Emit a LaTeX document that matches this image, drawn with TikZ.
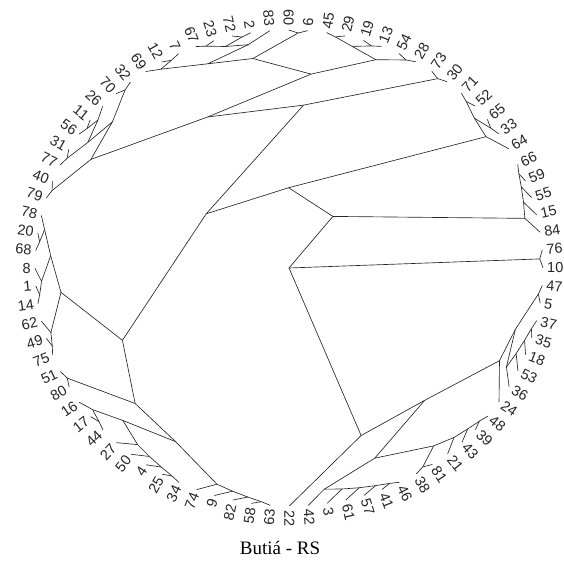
\documentclass[tikz,border=0pt]{standalone}
\usepackage{fontspec}
\setmainfont{Liberation Serif}
\setsansfont{Liberation Sans}
\usepackage{etoolbox}
\usetikzlibrary{calc}

\newcommand\cxx{289}
\newcommand\cyy{297}
\newcommand\Rxx{254}
\newcommand\Ryy{238}
\newcommand\loff{4}

\def\allnodes{}
\def\alledges{}

\newcommand\Lf[2]{%
  \pgfmathsetmacro\tmpa{81.5-(#2-1)*4.2857143+(#2>41)*360}%
  \expandafter\xdef\csname angt#1\endcsname{\tmpa}%
  \expandafter\xdef\csname cntt#1\endcsname{1}%
  \gappto\allnodes{\PlLeaf{#1}}%
}
\newcommand\In[3]{%
  \edef\tmpca{\csname ang#2\endcsname}\edef\tmpcb{\csname ang#3\endcsname}%
  \edef\tmpna{\csname cnt#2\endcsname}\edef\tmpnb{\csname cnt#3\endcsname}%
  \pgfmathsetmacro\tmpa{(\tmpca+\tmpcb)/2}%
  \pgfmathtruncatemacro\tmpn{\tmpna+\tmpnb}%
  \expandafter\xdef\csname ang#1\endcsname{\tmpa}%
  \expandafter\xdef\csname cnt#1\endcsname{\tmpn}%
  \gappto\allnodes{\PlNode{#1}}%
  \gappto\alledges{\draw[edge] (#1) -- (#2); \draw[edge] (#1) -- (#3);}%
}
\newcommand\InR[4]{%
  \expandafter\xdef\csname ang#1\endcsname{0}%
  \expandafter\xdef\csname cnt#1\endcsname{84}%
  \gappto\allnodes{\PlNode{#1}}%
  \gappto\alledges{\draw[edge] (#1) -- (#2); \draw[edge] (#1) -- (#3); \draw[edge] (#1) -- (#4);}%
}
\newcommand\PlNode[1]{%
  \pgfmathsetmacro\tmprr{(84-\csname cnt#1\endcsname)/83}%
  \pgfmathsetmacro\tmpang{\csname ang#1\endcsname}%
  \coordinate (#1) at ({\cxx+\Rxx*\tmprr*cos(\tmpang)},{\cyy+\Ryy*\tmprr*sin(\tmpang)});%
}
\newcommand\PlLeaf[1]{%
  \pgfmathsetmacro\tmpang{\csname angt#1\endcsname}%
  \coordinate (t#1) at ({\cxx+\Rxx*cos(\tmpang)},{\cyy+\Ryy*sin(\tmpang)});%
  \pgfmathparse{cos(\tmpang)>=0}%
  \ifdim\pgfmathresult pt>0.5pt
    \node[lbl,anchor=west,rotate=\tmpang] (l#1) at ($(t#1)+(\tmpang:\loff)$) {#1};%
  \else
    \pgfmathsetmacro\tmprot{\tmpang+180}%
    \node[lbl,anchor=east,rotate=\tmprot] (l#1) at ($(t#1)+(\tmpang:\loff)$) {#1};%
  \fi
}

% leaves, clockwise from the top
\Lf{45}{1}\Lf{29}{2}\Lf{19}{3}\Lf{13}{4}\Lf{54}{5}\Lf{28}{6}\Lf{73}{7}\Lf{30}{8}
\Lf{71}{9}\Lf{52}{10}\Lf{65}{11}\Lf{33}{12}\Lf{64}{13}\Lf{66}{14}\Lf{59}{15}\Lf{55}{16}
\Lf{15}{17}\Lf{84}{18}\Lf{76}{19}\Lf{10}{20}\Lf{47}{21}\Lf{5}{22}\Lf{37}{23}\Lf{35}{24}
\Lf{18}{25}\Lf{53}{26}\Lf{36}{27}\Lf{24}{28}\Lf{48}{29}\Lf{39}{30}\Lf{43}{31}\Lf{21}{32}
\Lf{81}{33}\Lf{38}{34}\Lf{46}{35}\Lf{41}{36}\Lf{57}{37}\Lf{61}{38}\Lf{3}{39}\Lf{42}{40}
\Lf{22}{41}\Lf{63}{42}\Lf{58}{43}\Lf{82}{44}\Lf{9}{45}\Lf{74}{46}\Lf{34}{47}\Lf{25}{48}
\Lf{4}{49}\Lf{50}{50}\Lf{27}{51}\Lf{44}{52}\Lf{17}{53}\Lf{16}{54}\Lf{80}{55}\Lf{51}{56}
\Lf{75}{57}\Lf{49}{58}\Lf{62}{59}\Lf{14}{60}\Lf{1}{61}\Lf{8}{62}\Lf{68}{63}\Lf{20}{64}
\Lf{78}{65}\Lf{79}{66}\Lf{40}{67}\Lf{77}{68}\Lf{31}{69}\Lf{56}{70}\Lf{11}{71}\Lf{26}{72}
\Lf{70}{73}\Lf{32}{74}\Lf{69}{75}\Lf{12}{76}\Lf{7}{77}\Lf{67}{78}\Lf{23}{79}\Lf{72}{80}
\Lf{2}{81}\Lf{83}{82}\Lf{60}{83}\Lf{6}{84}

% top-right cluster
\In{nL1}{t45}{t29}\In{nL2}{t19}{t13}\In{nL3}{nL1}{nL2}\In{nL4}{t54}{t28}\In{nL}{nL3}{nL4}
\In{nN}{t73}{t30}
% top-left cluster
\In{nK1}{t12}{t7}\In{nK2}{t69}{nK1}\In{nK3}{t67}{t23}\In{nK4}{t72}{t2}\In{nK5}{nK3}{nK4}
\In{nK6}{nK5}{t83}\In{nK}{nK2}{nK6}\In{nK7}{t60}{t6}\In{nKp}{nK}{nK7}\In{nJ}{nKp}{nL}
% left-upper cluster
\In{nM1}{t40}{t79}\In{nM2}{t70}{t32}\In{nM3}{t77}{t31}\In{nM4}{t56}{t11}\In{nM5}{t26}{nM4}
\In{nM6}{nM3}{nM5}\In{nU}{nM2}{nM6}\In{nM}{nM1}{nU}\In{nV}{nM}{nJ}\In{nI}{nV}{nN}
% left-lower cluster
\In{nQ1}{t20}{t68}\In{nQ2}{t78}{nQ1}\In{nQ3}{t1}{t14}\In{nQ4}{t8}{nQ3}\In{nQ}{nQ2}{nQ4}
\In{nP2}{t49}{t75}\In{nP3}{t62}{nP2}\In{nP}{nQ}{nP3}
\In{nS1}{t17}{t44}\In{nS2}{t16}{nS1}\In{nS3}{t25}{t34}\In{nS4}{t4}{nS3}\In{nS5}{t50}{nS4}
\In{nS6}{t27}{nS5}\In{nS}{nS2}{nS6}
\In{nT1}{t58}{t63}\In{nT2}{t82}{nT1}\In{nT3}{t9}{nT2}\In{nT}{t74}{nT3}
\In{nR2}{nS}{nT}\In{nR1}{t51}{t80}\In{nR}{nR1}{nR2}\In{nH}{nP}{nR}
\In{nE}{nH}{nI}
% right-upper clusters
\In{nF1}{t71}{t52}\In{nF2}{t65}{t33}\In{nF3}{nF1}{nF2}\In{nF}{nF3}{t64}
\In{nD}{nE}{nF}
\In{nG1}{t66}{t59}\In{nG2}{nG1}{t55}\In{nG3}{nG2}{t15}\In{nG}{nG3}{t84}
\In{nB}{nD}{nG}
\In{nO}{t76}{t10}
% right-lower clusters
\In{nY5}{t35}{t37}\In{nY4}{t18}{nY5}\In{nY3}{t53}{nY4}\In{nY2}{t36}{nY3}
\In{nY6}{t47}{t5}\In{nY1}{nY6}{nY2}\In{nY}{nY1}{t24}
\In{nZa}{t41}{t46}\In{nZb}{t57}{nZa}\In{nZc}{t61}{nZb}\In{nZ2}{t3}{nZc}\In{nZ23}{nZ2}{t42}
\In{nZd}{t39}{t48}\In{nZe}{t43}{nZd}\In{nZf}{t21}{nZe}\In{nZg}{t38}{t81}\In{nZ3}{nZg}{nZf}
\In{nW}{nZ23}{nZ3}\In{nX}{nY}{nW}\In{nC}{t22}{nX}
\InR{nA}{nB}{nO}{nC}

\begin{document}
\begin{tikzpicture}[x=1pt,y=1pt,
  edge/.style={line width=0.65pt, black!85},
  lbl/.style={font=\sffamily\fontsize{14.5}{15}\selectfont, inner sep=0pt, text=black!85}]
\useasboundingbox (0,0) rectangle (563,565);
\allnodes
\alledges
\node[font=\rmfamily\fontsize{19}{22}\selectfont, inner sep=0pt] (title) at (280,17) {Butiá - RS};
\end{tikzpicture}
\end{document}
